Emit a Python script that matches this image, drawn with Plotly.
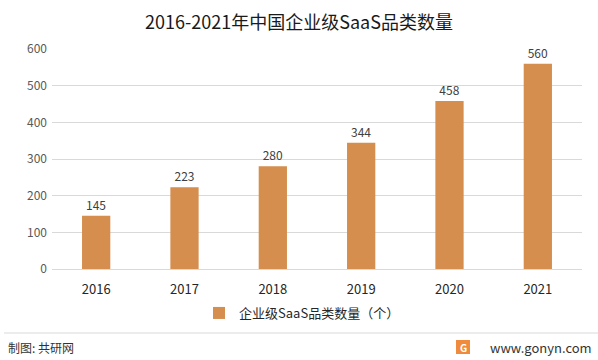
import plotly.graph_objects as go

years = ["2016", "2017", "2018", "2019", "2020", "2021"]
counts = [145, 223, 280, 344, 458, 560]
series_name = "企业级SaaS品类数量（个）"
title_text = "2016-2021年中国企业级SaaS品类数量"
source_text = "制图: 共研网"
site_text = "www.gonyn.com"

W, H = 598, 360
L, R, T, B = 52, 16, 49, 91
pw, ph = W - L - R, H - T - B

def px_x(x):
    return (x - L) / pw

def px_y(y):
    return (H - B - y) / ph

FONT = "Noto Sans CJK SC, Microsoft YaHei, sans-serif"

fig = go.Figure()
fig.add_trace(go.Bar(
    x=years, y=counts, name=series_name,
    marker=dict(color="#D58E4E", line=dict(width=0)),
    width=0.32,
    text=[str(v) for v in counts], textposition="outside",
    textfont=dict(size=12, color="#404040", family=FONT),
    cliponaxis=False,
))

fig.update_layout(
    width=W, height=H,
    margin=dict(l=L, r=R, t=T, b=B, autoexpand=False),
    paper_bgcolor="white", plot_bgcolor="white",
    font=dict(family=FONT, color="#595959"),
    title=dict(text=title_text, x=0.5, xanchor="center", y=1 - 23 / H, yanchor="middle",
               font=dict(size=18, color="#1a1a1a", family=FONT)),
    xaxis=dict(showgrid=False, showline=True, linecolor="#d9d9d9", linewidth=1,
               ticks="", ticklabelstandoff=8,
               tickfont=dict(size=13, color="#262626", family=FONT)),
    yaxis=dict(range=[0, 600], dtick=100, showgrid=True, gridcolor="#d9d9d9", gridwidth=1,
               zeroline=False, ticks="", ticklen=0, ticklabelstandoff=4,
               tickfont=dict(size=12, color="#595959", family=FONT)),
    showlegend=True,
    legend=dict(orientation="h", x=0.5 - 15 / pw, xanchor="center", y=px_y(313), yanchor="middle",
                font=dict(size=13, color="#262626", family=FONT),
                itemwidth=30, itemsizing="constant", bgcolor="rgba(0,0,0,0)"),
    bargap=0.68,
)

# footer separator line
fig.add_shape(type="line", xref="paper", yref="paper",
              x0=px_x(4), x1=px_x(598), y0=px_y(333), y1=px_y(333),
              line=dict(color="#e6e6e6", width=1.5))
# footer texts
fig.add_annotation(text=source_text, xref="paper", yref="paper",
                   x=px_x(6), y=px_y(347), xanchor="left", yanchor="middle",
                   showarrow=False, font=dict(size=12, color="#333333", family=FONT))
fig.add_annotation(text=site_text, xref="paper", yref="paper",
                   x=px_x(594), y=px_y(347), xanchor="right", yanchor="middle",
                   showarrow=False, font=dict(size=13, color="#333333", family=FONT))
# logo
fig.add_shape(type="rect", xref="paper", yref="paper",
              x0=px_x(456), x1=px_x(470), y0=px_y(340), y1=px_y(354),
              fillcolor="#F08A3C", line=dict(width=0))
fig.add_annotation(text="<b>G</b>", xref="paper", yref="paper",
                   x=px_x(463), y=px_y(347), xanchor="center", yanchor="middle",
                   showarrow=False, font=dict(size=10, color="white", family=FONT))

fig.write_html("out.html", config={"displayModeBar": False},
               post_script="document.body.style.margin='0';document.body.style.overflow='hidden';")
